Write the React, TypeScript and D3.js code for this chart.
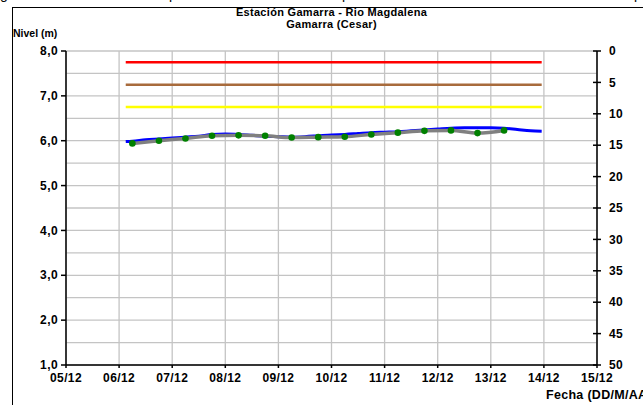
import React from 'react';
import * as d3 from 'd3';

const W = 643;
const H = 405;

const titleLines = ['Estación Gamarra - Rio Magdalena', 'Gamarra (Cesar)'];
const yAxisTitle = 'Nivel (m)';
const xAxisTitle = 'Fecha (DD/M/AA)';

const xStart = '05/12/2020 00:00';
const xEnd = '15/12/2020 00:00';
const leftTicks = [1, 2, 3, 4, 5, 6, 7, 8];
const rightTicks = [0, 5, 10, 15, 20, 25, 30, 35, 40, 45, 50];
const gridLevels = [1, 1.5, 2, 2.5, 3, 3.5, 4, 4.5, 5, 5.5, 6, 6.5, 7, 7.5, 8];

// alert levels (red, orange/brown, yellow)
const alertValues = [7.75, 7.25, 6.75];
const alertStart = '06/12/2020 03:00';
const alertEnd = '13/12/2020 23:00';

// continuous sensor level (blue)
const sensorTimes = [
  '06/12/2020 03:00', '06/12/2020 06:00', '06/12/2020 12:00', '06/12/2020 18:00',
  '07/12/2020 00:00', '07/12/2020 06:00', '07/12/2020 12:00', '07/12/2020 18:00',
  '08/12/2020 00:00', '08/12/2020 06:00', '08/12/2020 12:00', '08/12/2020 18:00',
  '09/12/2020 00:00', '09/12/2020 06:00', '09/12/2020 12:00', '09/12/2020 18:00',
  '10/12/2020 00:00', '10/12/2020 06:00', '10/12/2020 12:00', '10/12/2020 18:00',
  '11/12/2020 00:00', '11/12/2020 06:00', '11/12/2020 12:00', '11/12/2020 18:00',
  '12/12/2020 00:00', '12/12/2020 06:00', '12/12/2020 12:00', '12/12/2020 18:00',
  '13/12/2020 00:00', '13/12/2020 06:00', '13/12/2020 12:00', '13/12/2020 18:00',
  '13/12/2020 23:00',
];
const sensorValues = [
  5.98, 5.99, 6.02, 6.04,
  6.06, 6.08, 6.1, 6.14,
  6.15, 6.14, 6.12, 6.1,
  6.09, 6.08, 6.09, 6.11,
  6.13, 6.14, 6.16, 6.18,
  6.19, 6.2, 6.22, 6.24,
  6.26, 6.28, 6.29, 6.29,
  6.29, 6.28, 6.25, 6.22,
  6.21,
];

// manual readings (gray line + green dots)
const readingTimes = [
  '06/12/2020 06:00', '06/12/2020 18:00', '07/12/2020 06:00', '07/12/2020 18:00',
  '08/12/2020 06:00', '08/12/2020 18:00', '09/12/2020 06:00', '09/12/2020 18:00',
  '10/12/2020 06:00', '10/12/2020 18:00', '11/12/2020 06:00', '11/12/2020 18:00',
  '12/12/2020 06:00', '12/12/2020 18:00', '13/12/2020 06:00',
];
const readingValues = [
  5.94, 6.0, 6.05, 6.11, 6.12, 6.11, 6.07, 6.08, 6.09, 6.14, 6.18, 6.22, 6.23, 6.17, 6.23,
];

const parse = d3.timeParse('%d/%m/%Y %H:%M');
const fmt = d3.timeFormat('%d/%m');

export default function App() {
  const left = 66;
  const right = 597;
  const top = 51;
  const bottom = 365;

  const x = d3.scaleTime().domain([parse(xStart)!, parse(xEnd)!]).range([left, right]);
  const y = d3.scaleLinear().domain([1, 8]).range([bottom, top]);
  const y2 = d3.scaleLinear().domain([0, 50]).range([top, bottom]);
  const dayTicks = x.ticks(d3.timeDay.every(1)!);

  const sensor = sensorTimes.map((t, i) => ({ t: parse(t)!, v: sensorValues[i] }));
  const readings = readingTimes.map((t, i) => ({ t: parse(t)!, v: readingValues[i] }));
  const line = d3
    .line<{ t: Date; v: number }>()
    .x((d) => x(d.t))
    .y((d) => y(d.v))
    .curve(d3.curveMonotoneX);

  const alertColors = ['#ff0000', '#a86b3c', '#ffff00'];
  const font = "'Liberation Sans', Arial, sans-serif";

  return (
    <svg
      width={W}
      height={H}
      style={{ position: 'absolute', left: 0, top: 0, background: '#fff' }}
      fontFamily={font}
      fontWeight="bold"
    >
      <rect x={0} y={0} width={W} height={H} fill="#fff" />
      {/* descenders of caption text above the frame */}
      <g fontSize={14} fontWeight="normal" fill="#000">
        <text x={0} y={-1}>g</text>
        <text x={169} y={-1}>p</text>
        <text x={342} y={-1}>p</text>
        <text x={634} y={-1}>p</text>
      </g>
      {/* outer frame */}
      <rect x={12.5} y={7.5} width={W} height={H} fill="none" stroke="#000" strokeWidth={1} />

      {/* grid */}
      <g stroke="#c4c4c4" strokeWidth={1.3}>
        {gridLevels.map((g) => (
          <line key={'h' + g} x1={left} x2={right} y1={y(g)} y2={y(g)} />
        ))}
        {dayTicks.map((d, i) => (
          <line key={'v' + i} x1={x(d)} x2={x(d)} y1={top} y2={bottom} />
        ))}
      </g>

      {/* alert lines */}
      {alertValues.map((v, i) => (
        <line
          key={'a' + i}
          x1={x(parse(alertStart)!)}
          x2={x(parse(alertEnd)!)}
          y1={y(v)}
          y2={y(v)}
          stroke={alertColors[i]}
          strokeWidth={2.5}
        />
      ))}

      {/* sensor line */}
      <path d={line(sensor)!} fill="none" stroke="#0000ff" strokeWidth={3} />
      {/* readings */}
      <path d={line(readings)!} fill="none" stroke="#808080" strokeWidth={3.5} />
      {readings.map((d, i) => (
        <circle key={'c' + i} cx={x(d.t)} cy={y(d.v)} r={3.3} fill="#008000" />
      ))}

      {/* axes */}
      <g stroke="#000" strokeWidth={1.5}>
        <line x1={left} x2={left} y1={top} y2={bottom} />
        <line x1={right} x2={right} y1={top} y2={bottom} />
        <line x1={left} x2={right} y1={bottom} y2={bottom} />
        {leftTicks.map((t) => (
          <line key={'lt' + t} x1={left - 5} x2={left} y1={y(t)} y2={y(t)} />
        ))}
        {rightTicks.map((t) => (
          <line key={'rt' + t} x1={right - 4} x2={right + 4} y1={y2(t)} y2={y2(t)} />
        ))}
        {dayTicks.map((d, i) => (
          <line key={'bt' + i} x1={x(d)} x2={x(d)} y1={bottom} y2={bottom + 3} />
        ))}
      </g>

      {/* tick labels */}
      <g fontSize={12} fill="#000" letterSpacing={0.4}>
        {leftTicks.map((t) => (
          <text key={'ll' + t} x={left - 8} y={y(t)} dy="0.35em" textAnchor="end">
            {d3.format('.1f')(t).replace('.', ',')}
          </text>
        ))}
        {rightTicks.map((t) => (
          <text key={'rl' + t} x={right + 12} y={y2(t)} dy="0.35em">
            {t}
          </text>
        ))}
        {dayTicks.map((d, i) => (
          <text key={'bl' + i} x={x(d)} y={bottom + 13} dy="0.35em" textAnchor="middle">
            {fmt(d)}
          </text>
        ))}
      </g>

      {/* titles */}
      <g fill="#000">
        <text x={(left + right) / 2} y={16} textAnchor="middle" fontSize={11} letterSpacing={0.3}>
          {titleLines[0]}
        </text>
        <text x={(left + right) / 2} y={28} textAnchor="middle" fontSize={11} letterSpacing={0.3}>
          {titleLines[1]}
        </text>
        <text x={13} y={37} fontSize={10.5}>{yAxisTitle}</text>
        <text x={546} y={399} fontSize={12.5} letterSpacing={0.3}>{xAxisTitle}</text>
      </g>
    </svg>
  );
}
